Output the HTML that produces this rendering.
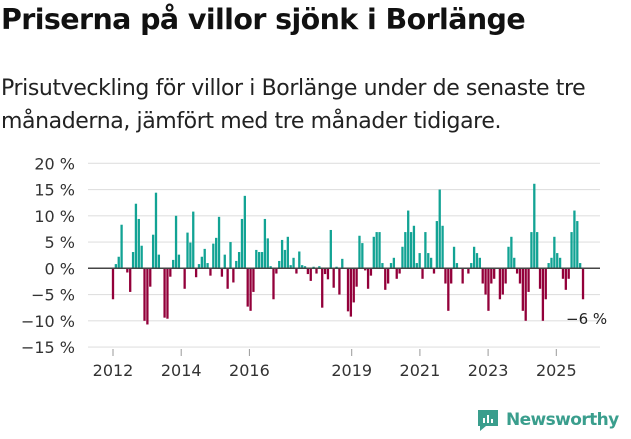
<!DOCTYPE html>
<html><head><meta charset="utf-8"><style>
body{margin:0;width:631px;height:439px;background:#fff;font-family:"Liberation Sans","DejaVu Sans",sans-serif;overflow:hidden;position:relative}
#t{position:absolute;left:1px;top:3px;font-size:28.5px;font-weight:bold;color:#111;font-family:"DejaVu Sans",sans-serif;letter-spacing:-0.6px}
#s{position:absolute;left:1px;top:72px;font-size:22px;line-height:33px;color:#222;font-family:"DejaVu Sans",sans-serif;letter-spacing:-0.4px}
svg{position:absolute;left:0;top:0}
</style></head><body>
<div id="t">Priserna på villor sjönk i Borlänge</div>
<div id="s">Prisutveckling för villor i Borlänge under de senaste tre<br>månaderna, jämfört med tre månader tidigare.</div>
<svg id="c" width="631" height="439"></svg>
<script>
const startYear=2012;
const values=[-5.9,0.8,2.2,8.3,0,-0.8,-4.5,3.1,12.3,9.4,4.3,-10,-10.7,-3.5,6.4,14.4,2.6,0,-9.4,-9.6,-1.6,1.6,10,2.6,0,-3.9,6.8,4.9,10.8,-1.7,0.8,2.2,3.7,1.0,-1.4,4.7,5.8,9.8,-1.6,2.6,-3.9,5.0,-2.7,1.4,3.1,9.4,13.8,-7.3,-8.1,-4.5,3.5,3.1,3.1,
9.4,5.7,0.4,-5.9,-1,1.4,5.4,3.5,6,0.6,2,-1,3.2,0.6,0.4,-1.1,-2.4,0.3,-1,0.4,-7.5,-1.1,-2.1,7.3,-3.7,0.3,-5,1.8,0,-8.2,-9.2,-6.5,-3.5,6.2,4.8,-0.4,-3.9,-1.4,6,6.9,6.9,1,-4.1,-2.9,1,2,-2,-1,4.1,6.9,11,6.9,8.1,1,2.9,
-2,6.9,2.9,2,-1,9,15,8.1,-2.9,-8.1,-2.9,4.1,1,0,-2.9,0,-1,1,4.1,2.9,2,-2.9,-5,-8.1,-2.9,-2,0,-5.9,-5,-2.9,4.1,6,2,-1,-2.9,-8.1,-10,-4.5,6.9,16.1,6.9,-3.9,-10,-5.9,1,2,6,2.9,2,-2,-4.1,-2,6.9,11,9,1,-5.9];
const yTicks=[20,15,10,5,0,-5,-10,-15];
const xTicks=[2012,2014,2016,2019,2021,2023,2025];
const lastLabel="−6 %";
const svg=document.getElementById('c');const NS='http://www.w3.org/2000/svg';
function y(v){return 268.3-v*5.25;}
function xm(i){return 113+i*2.866;}
function xy(yr){return 113+(yr-startYear)*34.1;}
function mk(tag,attrs){const e=document.createElementNS(NS,tag);for(const k in attrs)e.setAttribute(k,attrs[k]);svg.appendChild(e);return e;}
yTicks.forEach(t=>{
  const l=mk('line',{x1:88,x2:600,y1:y(t),y2:y(t),stroke:'#e0e0e0','stroke-width':1.2});
  
  
  const tx=mk('text',{x:75,y:y(t)+6,'text-anchor':'end','font-size':16,fill:'#333','font-family':'DejaVu Sans,sans-serif'});
  tx.textContent=(t<0?'−'+(-t):t)+' %';
  
  
});
values.forEach((v,i)=>{
  const r=mk('rect',{x:xm(i)-1.15,width:2.3,y:Math.min(y(v),y(0)),height:Math.abs(y(v)-y(0)),fill:v>=0?'#12a394':'#93003a'});
  
  
});
const z=mk('line',{x1:88,x2:600,y1:y(0),y2:y(0),stroke:'#444','stroke-width':1.5});


xTicks.forEach(t=>{
  const l=mk('line',{x1:xy(t),x2:xy(t),y1:349,y2:356,stroke:'#999','stroke-width':1});
  
  
  const tx=mk('text',{x:xy(t),y:376,'text-anchor':'middle','font-size':16,fill:'#333','font-family':'DejaVu Sans,sans-serif'});
  tx.textContent=t;
  
  
});
const lab=mk('text',{x:566,y:324,'font-size':15,fill:'#222','font-family':'DejaVu Sans,sans-serif'});
lab.textContent=lastLabel;


</script>
<div style="position:absolute;left:476px;top:408px;display:flex;align-items:center">
<svg width="24" height="24" style="position:static"><path d="M2 2h20v16H10l-6 5v-5H2z" fill="#3a9e8d"/><rect x="7" y="10" width="2" height="5" fill="#fff"/><rect x="11" y="7" width="2" height="8" fill="#fff"/><rect x="15" y="11" width="2" height="4" fill="#fff"/></svg>
<span style="margin-left:6px;font-size:17px;font-weight:bold;color:#3a9e8d;font-family:'DejaVu Sans',sans-serif;letter-spacing:-0.6px">Newsworthy</span></div>
</body></html>
